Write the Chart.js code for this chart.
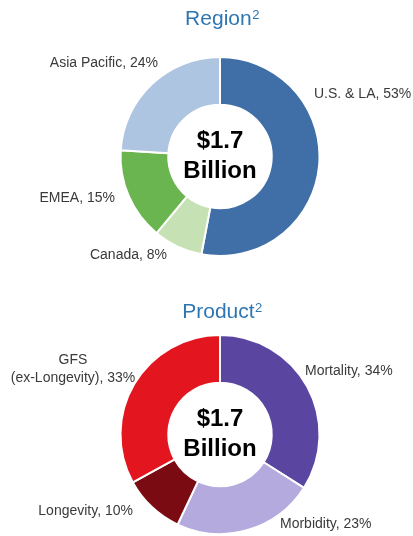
<!DOCTYPE html>
<html>
<head>
<meta charset="utf-8">
<script src="https://cdn.jsdelivr.net/npm/chart.js@4/dist/chart.umd.min.js"></script>
<style>
  html, body { margin: 0; padding: 0; background: #ffffff; }
  #wrap { position: relative; width: 413px; height: 536px; overflow: hidden; }
  #wrap canvas { position: absolute; left: 0; top: 0; }
</style>
</head>
<body>
<div id="wrap">
  <canvas id="region" width="413" height="536"></canvas>
  <canvas id="product" width="413" height="536"></canvas>
</div>
<script>
// ---- Data ----
const regionTitle = 'Region';
const regionLabels = ['U.S. & LA', 'Canada', 'EMEA', 'Asia Pacific'];
const regionValues = [53, 8, 15, 24];

const productTitle = 'Product';
const productLabels = ['Mortality', 'Morbidity', 'Longevity', ['GFS', '(ex-Longevity)']];
const productValues = [34, 23, 10, 33];

const centerLines = ['$1.7', 'Billion'];

// ---- Styles / layout ----
const regionColors = ['#3f6fa6', '#c6e1b4', '#6ab54f', '#adc5e0'];
const productColors = ['#5a45a1', '#b4aadd', '#7b0b12', '#e3161f'];
// label anchor offsets from doughnut centre: [dx, baseline dy, align]
const regionLabelPos = [[94, -59, 'left'], [-53, 102, 'right'], [-105, 45, 'right'], [-62, -90, 'right']];
const productLabelPos = [[85, -60, 'left'], [60, 93, 'left'], [-87, 80, 'right'], [-147, -53, 'center']];

const FONT = '"Liberation Sans", Arial, sans-serif';

const decorPlugin = {
  id: 'decor',
  afterDatasetsDraw(chart, args, opts) {
    const ctx = chart.ctx;
    const arc = chart.getDatasetMeta(0).data[0];
    const cx = arc.x, cy = arc.y;
    const ds = chart.data.datasets[0];
    ctx.save();
    // title with superscript
    ctx.fillStyle = '#2e76b2';
    ctx.textBaseline = 'alphabetic';
    ctx.font = '21px ' + FONT;
    const tw = ctx.measureText(opts.title).width;
    ctx.font = '13px ' + FONT;
    const sw = ctx.measureText('2').width;
    const tx = cx + 2 - (tw + sw) / 2;
    ctx.textAlign = 'left';
    ctx.font = '21px ' + FONT;
    ctx.fillText(opts.title, tx, cy + opts.titleDy);
    ctx.font = '13px ' + FONT;
    ctx.fillText('2', tx + tw + 0.5, cy + opts.titleDy - 6);

    // centre text
    ctx.fillStyle = '#000000';
    ctx.textAlign = 'center';
    ctx.font = 'bold 24px ' + FONT;
    ctx.fillText(centerLines[0], cx, cy - 9);
    ctx.fillText(centerLines[1], cx, cy + 21);

    // slice labels
    ctx.fillStyle = '#3a3a3a';
    ctx.font = '14px ' + FONT;
    chart.data.labels.forEach((lab, i) => {
      const lines = Array.isArray(lab) ? lab.slice() : [lab];
      lines[lines.length - 1] += ', ' + ds.data[i] + '%';
      const p = opts.pos[i];
      ctx.textAlign = p[2];
      for (let k = 0; k < lines.length; k++) {
        const y = cy + p[1] - (lines.length - 1 - k) * 18;
        ctx.fillText(lines[k], cx + p[0], y);
      }
    });
    ctx.restore();
  }
};

function makeDonut(id, labels, values, colors, padding, title, titleDy, pos) {
  return new Chart(document.getElementById(id), {
    type: 'doughnut',
    data: {
      labels: labels,
      datasets: [{
        data: values,
        backgroundColor: colors,
        borderColor: '#ffffff',
        borderWidth: 2,
        hoverOffset: 0,
        offset: 0
      }]
    },
    options: {
      responsive: false,
      animation: false,
      cutout: '52%',
      rotation: 0,
      layout: { padding: padding },
      plugins: {
        legend: { display: false },
        tooltip: { enabled: false },
        title: { display: false },
        decor: { title: title, titleDy: titleDy, pos: pos }
      },
      events: []
    },
    plugins: [decorPlugin]
  });
}

makeDonut('region', regionLabels, regionValues, regionColors,
  { left: 119, right: 92, top: 56, bottom: 279 }, regionTitle, -132, regionLabelPos);
makeDonut('product', productLabels, productValues, productColors,
  { left: 119, right: 92, top: 334, bottom: 1 }, productTitle, -117, productLabelPos);
</script>
</body>
</html>
